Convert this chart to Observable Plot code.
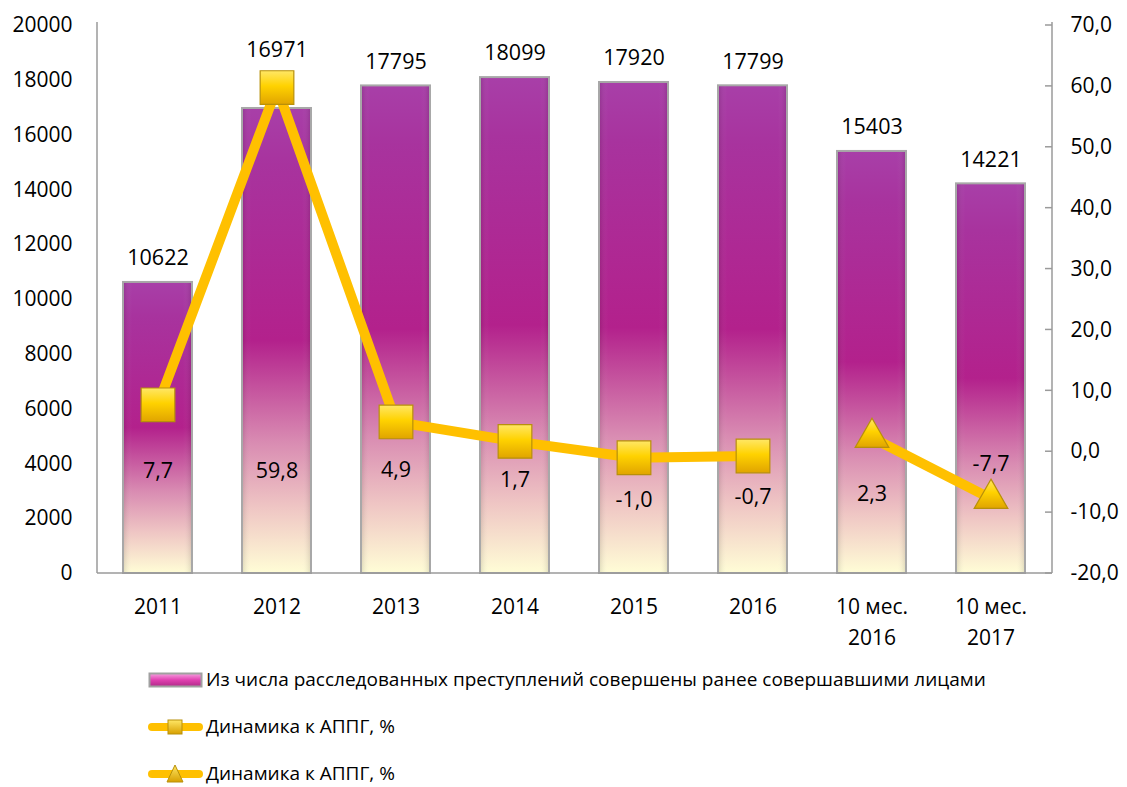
<!DOCTYPE html>
<html><head><meta charset="utf-8">
<script src="https://cdn.jsdelivr.net/npm/d3@7"></script>
<script src="https://cdn.jsdelivr.net/npm/@observablehq/plot@0.6"></script>
<style>
body{margin:0;background:#fff;font-family:"Open Sans",sans-serif;color:#000;}
#chart svg{display:block;}
#legend{position:absolute;left:148px;top:656px;font-size:19px;}
.item{display:flex;align-items:center;height:47px;}
.item span{line-height:1;}
.item svg{margin-right:3px;}
</style></head><body><div id="chart"></div><div id="legend"></div>
<script>
const categories = ["2011","2012","2013","2014","2015","2016","10 мес. 2016","10 мес. 2017"];
const crimes = [10622,16971,17795,18099,17920,17799,15403,14221];
const dynamics = [7.7,59.8,4.9,1.7,-1.0,-0.7,2.3,-7.7];
const seriesKind = ["year","year","year","year","year","year","period","period"];
const dynLabelAt = [-3.2,-3.2,-3.0,-4.7,-8.0,-7.5,-7.0,-2.1];
const leftTicks = d3.range(0, 20001, 2000);
const rightTicks = d3.range(-20, 71, 10);
const legendLabels = ["Из числа расследованных преступлений совершены ранее совершавшими лицами","Динамика к АППГ, %","Динамика к АППГ, %"];

const leftMax = 20000, rMin = -20, rMax = 70;
const toY = p => (p - rMin) * leftMax / (rMax - rMin);
const fmt1 = v => v.toFixed(1).replace(".", ",");

const data = categories.map((c, i) => ({cat: c, crimes: crimes[i], dyn: dynamics[i], kind: seriesKind[i], labelAt: dynLabelAt[i]}));

function defs() {
  const d = d3.create("svg:defs");
  const g = d.append("linearGradient").attr("id","barGrad").attr("x1",0).attr("y1",0).attr("x2",0).attr("y2",1);
  [[0,"#A83FA8"],[0.12,"#A8339E"],[0.5,"#B3218C"],[0.72,"#D98CB2"],[0.86,"#EFC6C4"],[1,"#FFFDD6"]]
    .forEach(([o,c]) => g.append("stop").attr("offset",o).attr("stop-color",c));
  const h = d.append("linearGradient").attr("id","barSide").attr("x1",0).attr("y1",0).attr("x2",1).attr("y2",0);
  [[0,"rgba(0,0,0,0.10)"],[0.12,"rgba(255,255,255,0.0)"],[0.88,"rgba(255,255,255,0.0)"],[1,"rgba(0,0,0,0.10)"]]
    .forEach(([o,c]) => h.append("stop").attr("offset",o).attr("stop-color",c));
  const y = d.append("linearGradient").attr("id","gold").attr("x1",0).attr("y1",0).attr("x2",0).attr("y2",1);
  [[0,"#FFE766"],[0.45,"#FFD200"],[1,"#E0A400"]]
    .forEach(([o,c]) => y.append("stop").attr("offset",o).attr("stop-color",c));
  return d.node();
}

function axisLines(index, scales, values, dim) {
  const g = d3.create("svg:g").attr("stroke","#9A9A9A").attr("stroke-width",1.5).attr("fill","none");
  const l = dim.marginLeft, r = dim.width - dim.marginRight, t = dim.marginTop - 3, b = dim.height - dim.marginBottom;
  g.append("line").attr("x1",l).attr("x2",l).attr("y1",t).attr("y2",b);
  g.append("line").attr("x1",r).attr("x2",r).attr("y1",t).attr("y2",b);
  g.append("line").attr("x1",l).attr("x2",r).attr("y1",b).attr("y2",b);
  rightTicks.forEach(v => {
    const yy = scales.y(toY(v));
    g.append("line").attr("x1",r-7).attr("x2",r).attr("y1",yy).attr("y2",yy);
  });
  return g.node();
}

const years = data.filter(d => d.kind === "year");
const periods = data.filter(d => d.kind === "period");

const chart = Plot.plot({
  width: 1127,
  height: 660,
  marginTop: 25,
  marginBottom: 87,
  marginLeft: 97,
  marginRight: 75,
  style: {fontFamily: "'Open Sans', sans-serif", fontSize: "21px", color: "#000", background: "#fff"},
  x: {domain: categories, paddingInner: 0.42, paddingOuter: 0.21, label: null},
  y: {domain: [0, leftMax], label: null},
  marks: [
    defs,
    Plot.barY(data, {x: "cat", y: "crimes", fill: "url(#barGrad)", stroke: "#A8A8A8", strokeWidth: 2}),
    Plot.barY(data, {x: "cat", y: "crimes", fill: "url(#barSide)", inset: 1}),
    axisLines,
    Plot.axisY({ticks: leftTicks, tickFormat: d => String(d), tickSize: 0, tickPadding: 25, label: null, fontSize: 21}),
    Plot.axisY({anchor: "right", ticks: rightTicks.map(toY), tickFormat: v => fmt1(v * (rMax - rMin) / leftMax + rMin), tickSize: 0, tickPadding: 18, label: null, fontSize: 21}),
    Plot.axisX({tickSize: 0, tickPadding: 19, tickFormat: c => c.replace(" 20", "\n20"), lineHeight: 1.45, label: null, fontSize: 21}),
    Plot.text(data.filter(d => d.cat !== "2012"), {x: "cat", y: "crimes", text: d => String(d.crimes), dy: -24, fontSize: 21.5}),
    Plot.text(data.filter(d => d.cat === "2012"), {x: "cat", y: "crimes", text: d => String(d.crimes), dy: -58, fontSize: 21.5}),
    Plot.line(years, {x: "cat", y: d => toY(d.dyn), stroke: "#FFC000", strokeWidth: 10, strokeLinejoin: "round"}),
    Plot.line(periods, {x: "cat", y: d => toY(d.dyn), stroke: "#FFC000", strokeWidth: 10, strokeLinejoin: "round"}),
    Plot.dot(years, {x: "cat", y: d => toY(d.dyn), symbol: "square", r: 19, fill: "url(#gold)", stroke: "#B8900A", strokeWidth: 1.2}),
    Plot.dot(periods, {x: "cat", y: d => toY(d.dyn), symbol: "triangle", r: 12.5, fill: "url(#gold)", stroke: "#B8900A", strokeWidth: 1.2}),
    Plot.text(data, {x: "cat", y: d => toY(d.labelAt), text: d => fmt1(d.dyn), fontSize: 21.5})
  ]
});
document.getElementById("chart").appendChild(chart);

const legend = document.getElementById("legend");
const icons = [
  `<svg width="55" height="16"><defs><linearGradient id="lg" x1="0" y1="0" x2="0" y2="1"><stop offset="0" stop-color="#F6A0E0"/><stop offset="0.5" stop-color="#E040B0"/><stop offset="1" stop-color="#B02A88"/></linearGradient></defs><rect x="1.5" y="1.5" width="52" height="13" fill="url(#lg)" stroke="#A0A0A0" stroke-width="2"/></svg>`,
  `<svg width="55" height="20"><defs><linearGradient id="lg2" x1="0" y1="0" x2="0" y2="1"><stop offset="0" stop-color="#FFE766"/><stop offset="1" stop-color="#D8A000"/></linearGradient></defs><line x1="4" x2="51" y1="10" y2="10" stroke="#FFC000" stroke-width="8" stroke-linecap="round"/><rect x="20" y="3" width="14" height="14" fill="url(#lg2)" stroke="#B8900A"/></svg>`,
  `<svg width="55" height="20"><line x1="4" x2="51" y1="10" y2="10" stroke="#FFC000" stroke-width="8" stroke-linecap="round"/><path d="M27 1 L35 18 L19 18 Z" fill="url(#lg2)" stroke="#B8900A"/></svg>`
];
legendLabels.forEach((t, i) => {
  const div = document.createElement("div");
  div.className = "item";
  div.innerHTML = icons[i] + `<span>${t}</span>`;
  legend.appendChild(div);
});
</script></body></html>
